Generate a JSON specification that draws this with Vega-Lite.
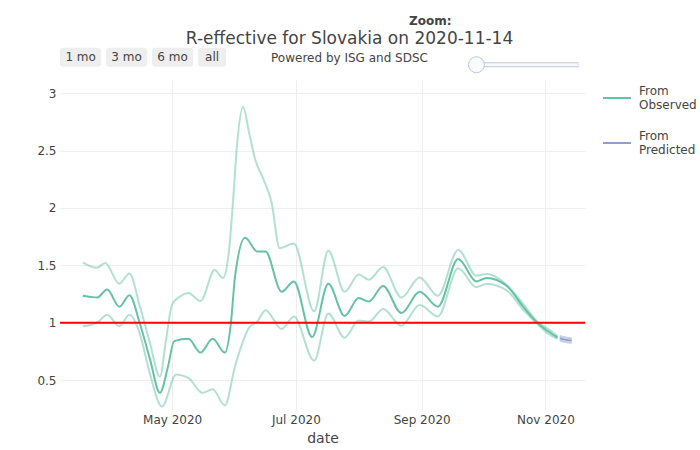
{
  "$schema": "https://vega.github.io/schema/vega-lite/v6.json",
  "width": 525,
  "height": 330,
  "autosize": {"type": "none"},
  "padding": {"left": 60, "top": 80, "right": 115, "bottom": 40},
  "background": "white",
  "title": {
    "text": "R-effective for Slovakia on 2020-11-14",
    "subtitle": "Powered by ISG and SDSC",
    "anchor": "middle",
    "dx": 27,
    "dy": 65,
    "offset": 15,
    "fontSize": 17,
    "fontWeight": "normal",
    "color": "#444",
    "subtitleFontSize": 12,
    "subtitleColor": "#444",
    "subtitlePadding": 5
  },
  "data": {
    "values": [
      {"date": "2020-03-18", "source": "Observed", "band": "mid", "r": 1.235},
      {"date": "2020-03-22", "source": "Observed", "band": "mid", "r": 1.225},
      {"date": "2020-03-25", "source": "Observed", "band": "mid", "r": 1.22},
      {"date": "2020-03-30", "source": "Observed", "band": "mid", "r": 1.29},
      {"date": "2020-04-05", "source": "Observed", "band": "mid", "r": 1.14},
      {"date": "2020-04-10", "source": "Observed", "band": "mid", "r": 1.24},
      {"date": "2020-04-15", "source": "Observed", "band": "mid", "r": 1.0},
      {"date": "2020-04-20", "source": "Observed", "band": "mid", "r": 0.69},
      {"date": "2020-04-25", "source": "Observed", "band": "mid", "r": 0.39},
      {"date": "2020-04-29", "source": "Observed", "band": "mid", "r": 0.62},
      {"date": "2020-05-02", "source": "Observed", "band": "mid", "r": 0.84},
      {"date": "2020-05-09", "source": "Observed", "band": "mid", "r": 0.86},
      {"date": "2020-05-15", "source": "Observed", "band": "mid", "r": 0.74},
      {"date": "2020-05-21", "source": "Observed", "band": "mid", "r": 0.86},
      {"date": "2020-05-27", "source": "Observed", "band": "mid", "r": 0.74},
      {"date": "2020-05-30", "source": "Observed", "band": "mid", "r": 1.0},
      {"date": "2020-06-01", "source": "Observed", "band": "mid", "r": 1.4},
      {"date": "2020-06-06", "source": "Observed", "band": "mid", "r": 1.74},
      {"date": "2020-06-12", "source": "Observed", "band": "mid", "r": 1.62},
      {"date": "2020-06-16", "source": "Observed", "band": "mid", "r": 1.62},
      {"date": "2020-06-24", "source": "Observed", "band": "mid", "r": 1.27},
      {"date": "2020-06-30", "source": "Observed", "band": "mid", "r": 1.36},
      {"date": "2020-07-09", "source": "Observed", "band": "mid", "r": 0.875},
      {"date": "2020-07-17", "source": "Observed", "band": "mid", "r": 1.34},
      {"date": "2020-07-25", "source": "Observed", "band": "mid", "r": 1.06},
      {"date": "2020-08-01", "source": "Observed", "band": "mid", "r": 1.215},
      {"date": "2020-08-06", "source": "Observed", "band": "mid", "r": 1.185},
      {"date": "2020-08-13", "source": "Observed", "band": "mid", "r": 1.32},
      {"date": "2020-08-22", "source": "Observed", "band": "mid", "r": 1.085},
      {"date": "2020-08-31", "source": "Observed", "band": "mid", "r": 1.27},
      {"date": "2020-09-09", "source": "Observed", "band": "mid", "r": 1.14},
      {"date": "2020-09-19", "source": "Observed", "band": "mid", "r": 1.555},
      {"date": "2020-09-28", "source": "Observed", "band": "mid", "r": 1.36},
      {"date": "2020-10-03", "source": "Observed", "band": "mid", "r": 1.39},
      {"date": "2020-10-13", "source": "Observed", "band": "mid", "r": 1.32},
      {"date": "2020-10-21", "source": "Observed", "band": "mid", "r": 1.14},
      {"date": "2020-10-28", "source": "Observed", "band": "mid", "r": 1.0},
      {"date": "2020-11-02", "source": "Observed", "band": "mid", "r": 0.93},
      {"date": "2020-11-07", "source": "Observed", "band": "mid", "r": 0.87},

      {"date": "2020-03-18", "source": "Observed", "band": "hi", "r": 1.525},
      {"date": "2020-03-25", "source": "Observed", "band": "hi", "r": 1.48},
      {"date": "2020-03-29", "source": "Observed", "band": "hi", "r": 1.52},
      {"date": "2020-04-05", "source": "Observed", "band": "hi", "r": 1.34},
      {"date": "2020-04-10", "source": "Observed", "band": "hi", "r": 1.43},
      {"date": "2020-04-15", "source": "Observed", "band": "hi", "r": 1.15},
      {"date": "2020-04-20", "source": "Observed", "band": "hi", "r": 0.83},
      {"date": "2020-04-25", "source": "Observed", "band": "hi", "r": 0.53},
      {"date": "2020-04-28", "source": "Observed", "band": "hi", "r": 0.85},
      {"date": "2020-05-01", "source": "Observed", "band": "hi", "r": 1.16},
      {"date": "2020-05-05", "source": "Observed", "band": "hi", "r": 1.23},
      {"date": "2020-05-09", "source": "Observed", "band": "hi", "r": 1.26},
      {"date": "2020-05-15", "source": "Observed", "band": "hi", "r": 1.19},
      {"date": "2020-05-22", "source": "Observed", "band": "hi", "r": 1.46},
      {"date": "2020-05-26", "source": "Observed", "band": "hi", "r": 1.39},
      {"date": "2020-05-29", "source": "Observed", "band": "hi", "r": 1.62},
      {"date": "2020-05-31", "source": "Observed", "band": "hi", "r": 2.05},
      {"date": "2020-06-02", "source": "Observed", "band": "hi", "r": 2.55},
      {"date": "2020-06-05", "source": "Observed", "band": "hi", "r": 2.88},
      {"date": "2020-06-08", "source": "Observed", "band": "hi", "r": 2.65},
      {"date": "2020-06-11", "source": "Observed", "band": "hi", "r": 2.42},
      {"date": "2020-06-15", "source": "Observed", "band": "hi", "r": 2.25},
      {"date": "2020-06-19", "source": "Observed", "band": "hi", "r": 2.05},
      {"date": "2020-06-23", "source": "Observed", "band": "hi", "r": 1.65},
      {"date": "2020-06-30", "source": "Observed", "band": "hi", "r": 1.69},
      {"date": "2020-07-10", "source": "Observed", "band": "hi", "r": 1.1},
      {"date": "2020-07-17", "source": "Observed", "band": "hi", "r": 1.63},
      {"date": "2020-07-25", "source": "Observed", "band": "hi", "r": 1.27},
      {"date": "2020-08-01", "source": "Observed", "band": "hi", "r": 1.42},
      {"date": "2020-08-06", "source": "Observed", "band": "hi", "r": 1.375},
      {"date": "2020-08-13", "source": "Observed", "band": "hi", "r": 1.485},
      {"date": "2020-08-22", "source": "Observed", "band": "hi", "r": 1.22},
      {"date": "2020-08-31", "source": "Observed", "band": "hi", "r": 1.395},
      {"date": "2020-09-09", "source": "Observed", "band": "hi", "r": 1.235},
      {"date": "2020-09-19", "source": "Observed", "band": "hi", "r": 1.635},
      {"date": "2020-09-28", "source": "Observed", "band": "hi", "r": 1.41},
      {"date": "2020-10-03", "source": "Observed", "band": "hi", "r": 1.425},
      {"date": "2020-10-12", "source": "Observed", "band": "hi", "r": 1.345},
      {"date": "2020-10-21", "source": "Observed", "band": "hi", "r": 1.165},
      {"date": "2020-10-28", "source": "Observed", "band": "hi", "r": 1.01},
      {"date": "2020-11-02", "source": "Observed", "band": "hi", "r": 0.95},
      {"date": "2020-11-07", "source": "Observed", "band": "hi", "r": 0.885},

      {"date": "2020-03-18", "source": "Observed", "band": "lo", "r": 0.97},
      {"date": "2020-03-25", "source": "Observed", "band": "lo", "r": 1.0},
      {"date": "2020-03-30", "source": "Observed", "band": "lo", "r": 1.07},
      {"date": "2020-04-05", "source": "Observed", "band": "lo", "r": 0.97},
      {"date": "2020-04-10", "source": "Observed", "band": "lo", "r": 1.07},
      {"date": "2020-04-15", "source": "Observed", "band": "lo", "r": 0.91},
      {"date": "2020-04-20", "source": "Observed", "band": "lo", "r": 0.56},
      {"date": "2020-04-26", "source": "Observed", "band": "lo", "r": 0.27},
      {"date": "2020-05-03", "source": "Observed", "band": "lo", "r": 0.55},
      {"date": "2020-05-09", "source": "Observed", "band": "lo", "r": 0.52},
      {"date": "2020-05-16", "source": "Observed", "band": "lo", "r": 0.39},
      {"date": "2020-05-21", "source": "Observed", "band": "lo", "r": 0.42},
      {"date": "2020-05-27", "source": "Observed", "band": "lo", "r": 0.28},
      {"date": "2020-06-01", "source": "Observed", "band": "lo", "r": 0.62},
      {"date": "2020-06-04", "source": "Observed", "band": "lo", "r": 0.79},
      {"date": "2020-06-08", "source": "Observed", "band": "lo", "r": 0.96},
      {"date": "2020-06-12", "source": "Observed", "band": "lo", "r": 1.01},
      {"date": "2020-06-16", "source": "Observed", "band": "lo", "r": 1.11},
      {"date": "2020-06-24", "source": "Observed", "band": "lo", "r": 0.945},
      {"date": "2020-06-30", "source": "Observed", "band": "lo", "r": 1.055},
      {"date": "2020-07-10", "source": "Observed", "band": "lo", "r": 0.67},
      {"date": "2020-07-17", "source": "Observed", "band": "lo", "r": 1.08},
      {"date": "2020-07-25", "source": "Observed", "band": "lo", "r": 0.87},
      {"date": "2020-08-01", "source": "Observed", "band": "lo", "r": 1.02},
      {"date": "2020-08-06", "source": "Observed", "band": "lo", "r": 1.01},
      {"date": "2020-08-13", "source": "Observed", "band": "lo", "r": 1.12},
      {"date": "2020-08-22", "source": "Observed", "band": "lo", "r": 0.975},
      {"date": "2020-08-31", "source": "Observed", "band": "lo", "r": 1.155},
      {"date": "2020-09-09", "source": "Observed", "band": "lo", "r": 1.055},
      {"date": "2020-09-19", "source": "Observed", "band": "lo", "r": 1.475},
      {"date": "2020-09-28", "source": "Observed", "band": "lo", "r": 1.31},
      {"date": "2020-10-03", "source": "Observed", "band": "lo", "r": 1.34},
      {"date": "2020-10-13", "source": "Observed", "band": "lo", "r": 1.28},
      {"date": "2020-10-21", "source": "Observed", "band": "lo", "r": 1.115},
      {"date": "2020-10-28", "source": "Observed", "band": "lo", "r": 0.99},
      {"date": "2020-11-02", "source": "Observed", "band": "lo", "r": 0.91},
      {"date": "2020-11-07", "source": "Observed", "band": "lo", "r": 0.86},

      {"date": "2020-11-08", "source": "Predicted", "band": "mid", "r": 0.865},
      {"date": "2020-11-11", "source": "Predicted", "band": "mid", "r": 0.852},
      {"date": "2020-11-14", "source": "Predicted", "band": "mid", "r": 0.845},
      {"date": "2020-11-08", "source": "Predicted", "band": "hi", "r": 0.885},
      {"date": "2020-11-11", "source": "Predicted", "band": "hi", "r": 0.872},
      {"date": "2020-11-14", "source": "Predicted", "band": "hi", "r": 0.865},
      {"date": "2020-11-08", "source": "Predicted", "band": "lo", "r": 0.845},
      {"date": "2020-11-11", "source": "Predicted", "band": "lo", "r": 0.832},
      {"date": "2020-11-14", "source": "Predicted", "band": "lo", "r": 0.825}
    ]
  },
  "layer": [
    {
      "transform": [{"filter": "datum.band != 'mid'"}],
      "mark": {"type": "line", "interpolate": "monotone", "strokeWidth": 2, "opacity": 0.5},
      "encoding": {
        "x": {
          "field": "date", "type": "temporal", "title": "date",
          "scale": {"domain": [
            {"year": 2020, "month": 3, "date": 6, "hours": 18},
            {"year": 2020, "month": 11, "date": 20, "hours": 12}
          ]},
          "axis": {"format": "%b %Y", "tickCount": {"interval": "month", "step": 2}}
        },
        "y": {
          "field": "r", "type": "quantitative", "title": null,
          "scale": {"domain": [0.24, 3.115], "nice": false, "zero": false},
          "axis": {"values": [0.5, 1, 1.5, 2, 2.5, 3], "format": "~g"}
        },
        "color": {
          "field": "source", "type": "nominal",
          "scale": {"domain": ["Observed", "Predicted"], "range": ["#66c2a5", "#8da0cb"]},
          "legend": {"title": null, "labelExpr": "['From', datum.label]", "symbolOpacity": 1}
        },
        "detail": {"field": "band"}
      }
    },
    {
      "transform": [{"filter": "datum.band == 'mid'"}],
      "mark": {"type": "line", "interpolate": "monotone", "strokeWidth": 2},
      "encoding": {
        "x": {"field": "date", "type": "temporal"},
        "y": {"field": "r", "type": "quantitative"},
        "color": {"field": "source", "type": "nominal"}
      }
    },
    {
      "data": {"values": [{}]},
      "mark": {"type": "rule", "color": "#ff0000", "strokeWidth": 2},
      "encoding": {"y": {"datum": 1}}
    },
    {
      "data": {"values": [{}]},
      "mark": {"type": "rect", "color": "#eeeeee", "cornerRadius": 3},
      "encoding": {
        "x": {"datum": {"year": 2020, "month": 3, "date": 6, "hours": 18}},
        "x2": {"datum": {"year": 2020, "month": 3, "date": 27}},
        "y": {"datum": 3.396}, "y2": {"datum": 3.23}
      }
    },
    {
      "data": {"values": [{}]},
      "mark": {"type": "rect", "color": "#eeeeee", "cornerRadius": 3},
      "encoding": {
        "x": {"datum": {"year": 2020, "month": 3, "date": 29, "hours": 11}},
        "x2": {"datum": {"year": 2020, "month": 4, "date": 18, "hours": 16}},
        "y": {"datum": 3.396}, "y2": {"datum": 3.23}
      }
    },
    {
      "data": {"values": [{}]},
      "mark": {"type": "rect", "color": "#eeeeee", "cornerRadius": 3},
      "encoding": {
        "x": {"datum": {"year": 2020, "month": 4, "date": 21, "hours": 3}},
        "x2": {"datum": {"year": 2020, "month": 5, "date": 11, "hours": 9}},
        "y": {"datum": 3.396}, "y2": {"datum": 3.23}
      }
    },
    {
      "data": {"values": [{}]},
      "mark": {"type": "rect", "color": "#eeeeee", "cornerRadius": 3},
      "encoding": {
        "x": {"datum": {"year": 2020, "month": 5, "date": 13, "hours": 20}},
        "x2": {"datum": {"year": 2020, "month": 5, "date": 27, "hours": 15}},
        "y": {"datum": 3.396}, "y2": {"datum": 3.23}
      }
    },
    {
      "data": {"values": [{}]},
      "mark": {"type": "text", "color": "#444", "fontSize": 12},
      "encoding": {
        "x": {"datum": {"year": 2020, "month": 3, "date": 16, "hours": 22}},
        "y": {"datum": 3.313}, "text": {"value": "1 mo"}
      }
    },
    {
      "data": {"values": [{}]},
      "mark": {"type": "text", "color": "#444", "fontSize": 12},
      "encoding": {
        "x": {"datum": {"year": 2020, "month": 4, "date": 8, "hours": 13}},
        "y": {"datum": 3.313}, "text": {"value": "3 mo"}
      }
    },
    {
      "data": {"values": [{}]},
      "mark": {"type": "text", "color": "#444", "fontSize": 12},
      "encoding": {
        "x": {"datum": {"year": 2020, "month": 5, "date": 1, "hours": 6}},
        "y": {"datum": 3.313}, "text": {"value": "6 mo"}
      }
    },
    {
      "data": {"values": [{}]},
      "mark": {"type": "text", "color": "#444", "fontSize": 12},
      "encoding": {
        "x": {"datum": {"year": 2020, "month": 5, "date": 20, "hours": 17}},
        "y": {"datum": 3.313}, "text": {"value": "all"}
      }
    },
    {
      "data": {"values": [{}]},
      "mark": {"type": "text", "color": "#444", "fontSize": 12, "fontWeight": "bold"},
      "encoding": {
        "x": {"datum": {"year": 2020, "month": 9, "date": 5, "hours": 6}},
        "y": {"datum": 3.632}, "text": {"value": "Zoom:"}
      }
    },
    {
      "data": {"values": [{}]},
      "mark": {"type": "rule", "color": "#bec8d9", "strokeWidth": 5},
      "encoding": {
        "x": {"datum": {"year": 2020, "month": 9, "date": 28}},
        "x2": {"datum": {"year": 2020, "month": 11, "date": 17, "hours": 7}},
        "y": {"datum": 3.248}
      }
    },
    {
      "data": {"values": [{}]},
      "mark": {"type": "rule", "color": "#f8fafc", "strokeWidth": 3},
      "encoding": {
        "x": {"datum": {"year": 2020, "month": 9, "date": 28}},
        "x2": {"datum": {"year": 2020, "month": 11, "date": 17}},
        "y": {"datum": 3.248}
      }
    },
    {
      "data": {"values": [{}]},
      "mark": {"type": "point", "shape": "circle", "filled": true, "fill": "#f8fafc", "stroke": "#bec8d9", "strokeWidth": 1, "opacity": 1, "size": 254},
      "encoding": {
        "x": {"datum": {"year": 2020, "month": 9, "date": 28}},
        "y": {"datum": 3.248}
      }
    }
  ],
  "config": {
    "font": "DejaVu Sans",
    "view": {"stroke": null},
    "axis": {
      "domain": false,
      "ticks": false,
      "grid": true,
      "gridColor": "#eeeeee",
      "gridWidth": 1,
      "labelColor": "#444",
      "labelFontSize": 12,
      "labelPadding": 4,
      "labelFlush": false,
      "titleColor": "#444",
      "titleFontSize": 14,
      "titleFontWeight": "normal",
      "titlePadding": 6
    },
    "legend": {
      "orient": "right",
      "offset": 14,
      "padding": 3,
      "symbolType": "stroke",
      "symbolSize": 784,
      "symbolStrokeWidth": 2,
      "labelFontSize": 12,
      "labelColor": "#444",
      "labelOffset": 7,
      "labelBaseline": "bottom",
      "rowPadding": 17
    }
  }
}
